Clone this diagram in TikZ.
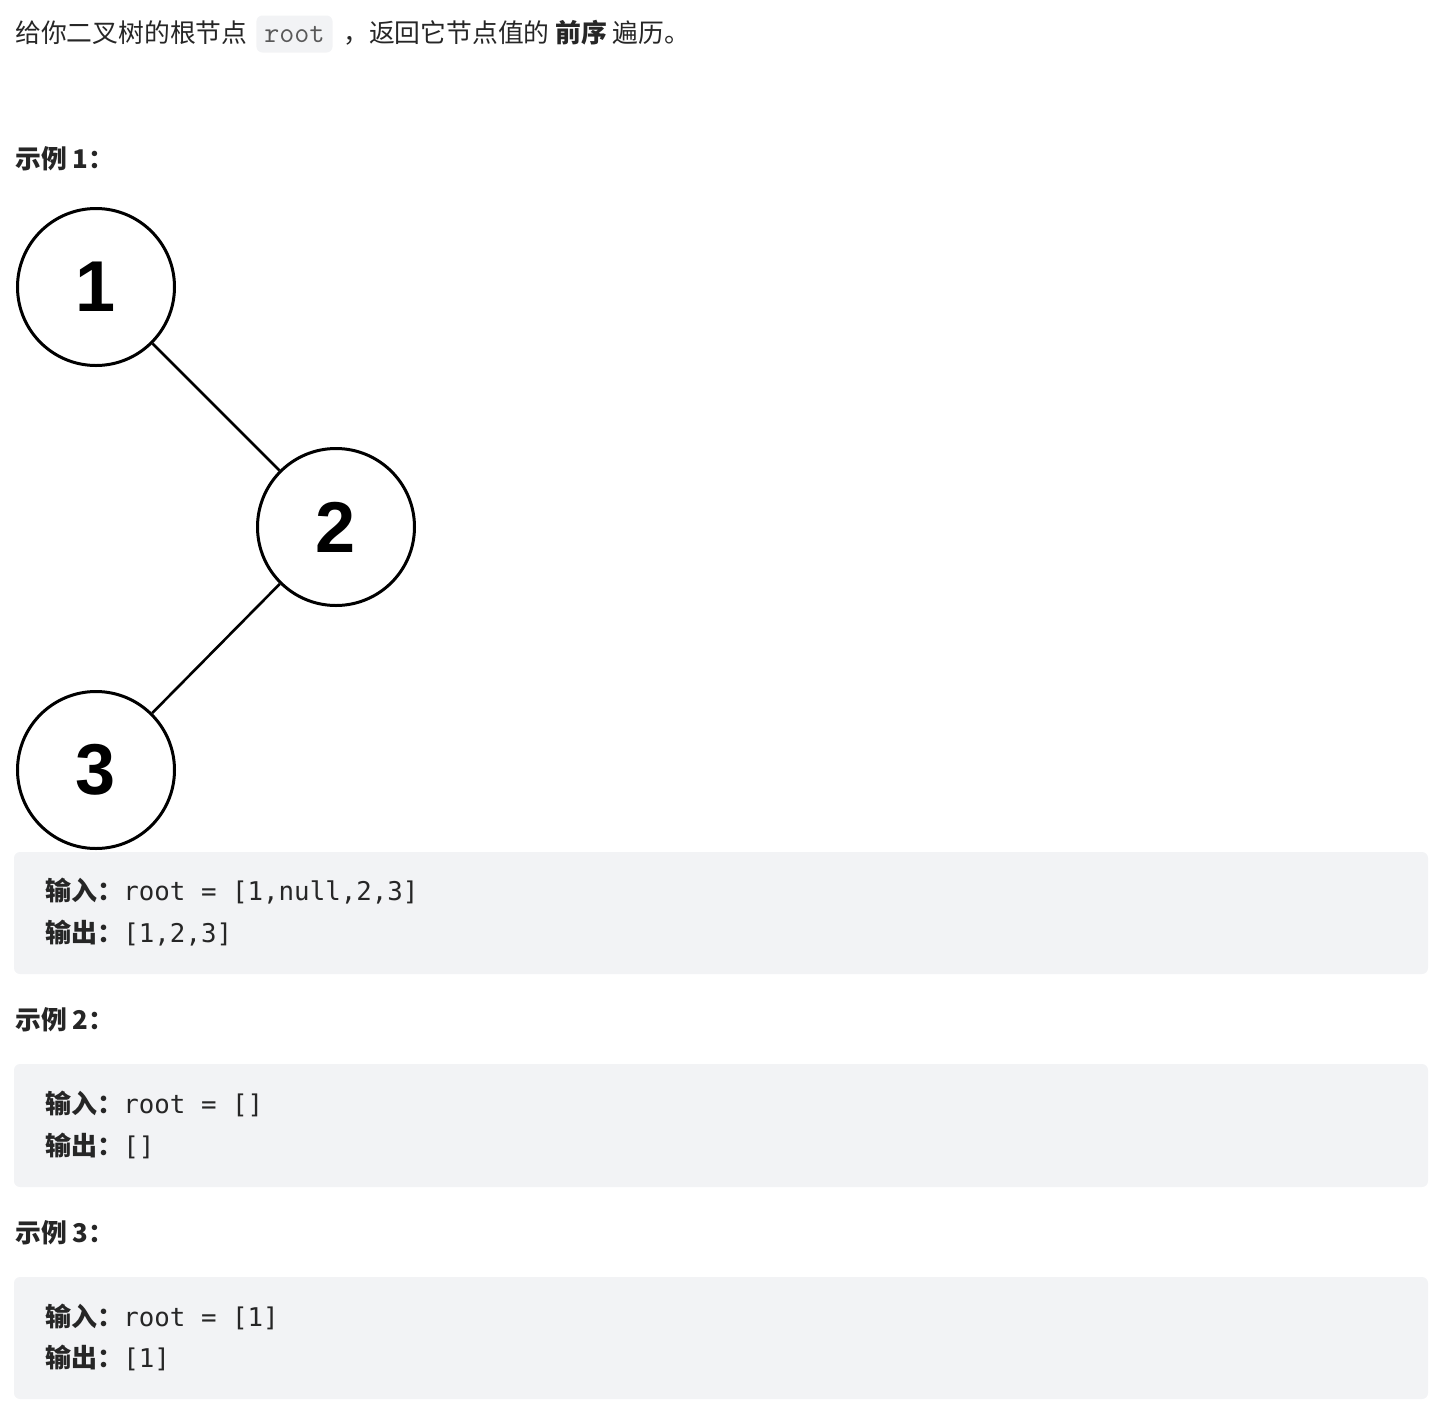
\documentclass[tikz,border=0pt]{standalone}
\usepackage{fontspec}
\setmainfont{Noto Sans CJK SC}
\newfontfamily\codefont{DejaVu Sans Mono}
\newfontfamily\digitfont{Liberation Sans}
\usetikzlibrary{positioning}
\definecolor{TextGray}{HTML}{262626}
\definecolor{CodeBg}{HTML}{F2F3F5}
\definecolor{InlineGray}{HTML}{595959}

\begin{document}
\begin{tikzpicture}[x=0.5pt, y=-0.5pt,
                    every node/.style={text=TextGray, inner sep=0pt},
                    textline/.style={anchor=base west, font=\fontsize{12.9pt}{15pt}\selectfont},
                    inlinecode/.style={fill=CodeBg, rounded corners=3pt, text=InlineGray,
                                       font=\fontsize{14.6pt}{15pt}\ttfamily,
                                       inner xsep=4pt, minimum height=18.5pt},
                    treenode/.style={circle, draw=black, line width=1.5pt, minimum size=78.5pt,
                                     text=black, font=\fontsize{36pt}{40pt}\digitfont\bfseries},
                    treeedge/.style={draw=black, line width=1.3pt},
                    codeblock/.style={fill=CodeBg, rounded corners=3pt, minimum width=707pt},
                    codeline/.style={anchor=base west, font=\fontsize{13pt}{15pt}\selectfont}]
  \useasboundingbox (0,0) rectangle (1432,1404);
  % problem statement
  \node[textline] (intro) at (15,42) {给你二叉树的根节点};
  \node[inlinecode, right=4pt of intro.base east, anchor=base west] (rootcode) {root};
  \node[textline, right=5pt of rootcode.base east, anchor=base west] (introrest) {，返回它节点值的 \textbf{前序} 遍历。};
  % example 1
  \node[textline] (ex1) at (15,168) {\textbf{示例 1：}};
  \node[treenode] (n1) at (96,287) {1};
  \node[treenode] (n2) at (336,527) {2};
  \node[treenode] (n3) at (96,770) {3};
  \draw[treeedge] (n1) -- (n2);
  \draw[treeedge] (n2) -- (n3);
  \node[codeblock, minimum height=61pt] (block1) at (721,913) {};
  \node[codeline] (in1) at (45,900) {\textbf{输入：}{\fontsize{12.9pt}{15pt}\codefont root = [1,null,2,3]}};
  \node[codeline] (out1) at (45,942) {\textbf{输出：}{\fontsize{12.9pt}{15pt}\codefont [1,2,3]}};
  % example 2
  \node[textline] (ex2) at (15,1029) {\textbf{示例 2：}};
  \node[codeblock, minimum height=61.5pt] (block2) at (721,1125.5) {};
  \node[codeline] (in2) at (45,1113) {\textbf{输入：}{\fontsize{12.9pt}{15pt}\codefont root = []}};
  \node[codeline] (out2) at (45,1155) {\textbf{输出：}{\fontsize{12.9pt}{15pt}\codefont []}};
  % example 3
  \node[textline] (ex3) at (15,1242) {\textbf{示例 3：}};
  \node[codeblock, minimum height=61pt] (block3) at (721,1338) {};
  \node[codeline] (in3) at (45,1326) {\textbf{输入：}{\fontsize{12.9pt}{15pt}\codefont root = [1]}};
  \node[codeline] (out3) at (45,1367) {\textbf{输出：}{\fontsize{12.9pt}{15pt}\codefont [1]}};
\end{tikzpicture}
\end{document}
